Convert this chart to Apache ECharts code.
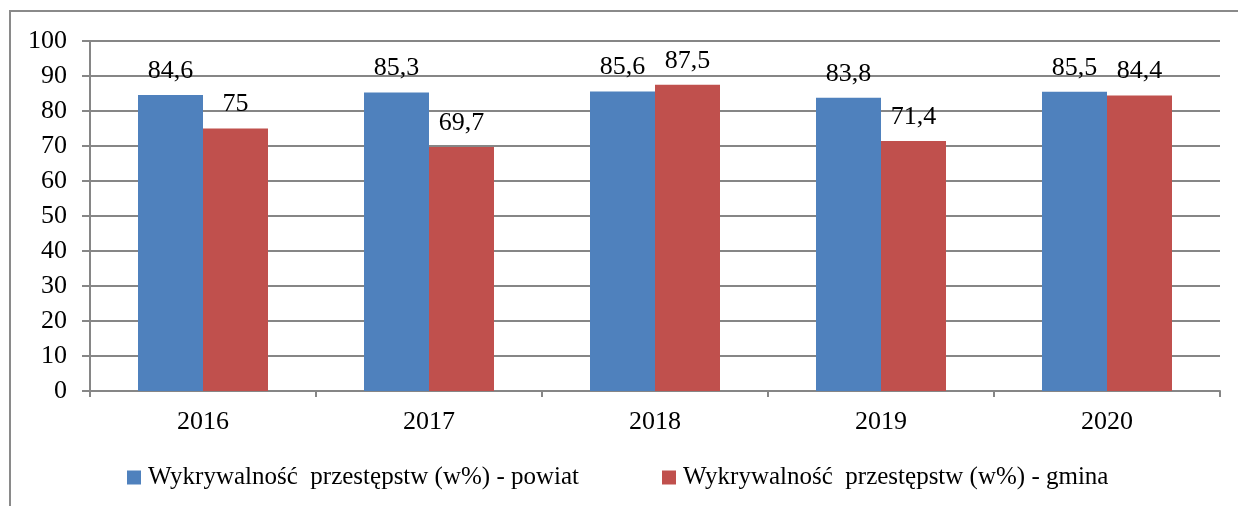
<!DOCTYPE html>
<html>
<head>
<meta charset="utf-8">
<script src="https://cdn.jsdelivr.net/npm/echarts@6/dist/echarts.min.js"></script>
<style>
html,body{margin:0;padding:0;background:#fff;}
#c{width:1238px;height:506px;}
</style>
</head>
<body>
<div id="c"></div>
<script>
const categories = ['2016', '2017', '2018', '2019', '2020'];
const powiat = [84.6, 85.3, 85.6, 83.8, 85.5];
const gmina = [75, 69.7, 87.5, 71.4, 84.4];
const seriesNames = ['Wykrywalność  przestępstw (w%) - powiat', 'Wykrywalność  przestępstw (w%) - gmina'];
const yTicks = { min: 0, max: 100, interval: 10 };

const FONT = '"Liberation Serif", "Times New Roman", serif';
const axisGray = '#868686';
const fmt = v => String(v.value !== undefined ? v.value : v).replace('.', ',');

const chart = echarts.init(document.getElementById('c'), null, { renderer: 'canvas' });
chart.setOption({
  animation: false,
  backgroundColor: '#fff',
  graphic: [{
    type: 'rect',
    shape: { x: 10, y: 11, width: 1240, height: 510 },
    style: { fill: 'none', stroke: '#8a8a8a', lineWidth: 2 },
    silent: true
  }],
  grid: { left: 90, right: 18, top: 41, bottom: 115, containLabel: false },
  legend: {
    left: 127, top: 465, padding: 0,
    icon: 'rect', itemWidth: 14, itemHeight: 14, itemGap: 83,
    textStyle: { fontFamily: FONT, fontSize: 25, color: '#000', padding: [0, 0, 0, 2] },
    data: seriesNames
  },
  xAxis: {
    type: 'category',
    data: categories,
    boundaryGap: true,
    axisLine: { lineStyle: { color: axisGray, width: 2 } },
    axisTick: { show: true, length: 6, lineStyle: { color: axisGray, width: 2 } },
    axisLabel: { fontFamily: FONT, fontSize: 26, color: '#000', margin: 18 }
  },
  yAxis: {
    type: 'value',
    min: yTicks.min, max: yTicks.max, interval: yTicks.interval,
    axisLine: { show: true, lineStyle: { color: axisGray, width: 2 } },
    axisTick: { show: true, length: 8, lineStyle: { color: axisGray, width: 2 } },
    axisLabel: { fontFamily: FONT, fontSize: 26, color: '#000', margin: 23 },
    splitLine: { show: true, lineStyle: { color: axisGray, width: 2 } }
  },
  series: [
    {
      name: seriesNames[0], type: 'bar', data: powiat,
      barWidth: 65, barGap: '0%',
      itemStyle: { color: '#4F81BD' },
      label: { show: true, position: 'top', distance: 11, formatter: fmt, fontFamily: FONT, fontSize: 26, color: '#000' }
    },
    {
      name: seriesNames[1], type: 'bar', data: gmina,
      barWidth: 65, barGap: '0%',
      itemStyle: { color: '#C0504D' },
      label: { show: true, position: 'top', distance: 11, formatter: fmt, fontFamily: FONT, fontSize: 26, color: '#000' }
    }
  ]
});
</script>
</body>
</html>
